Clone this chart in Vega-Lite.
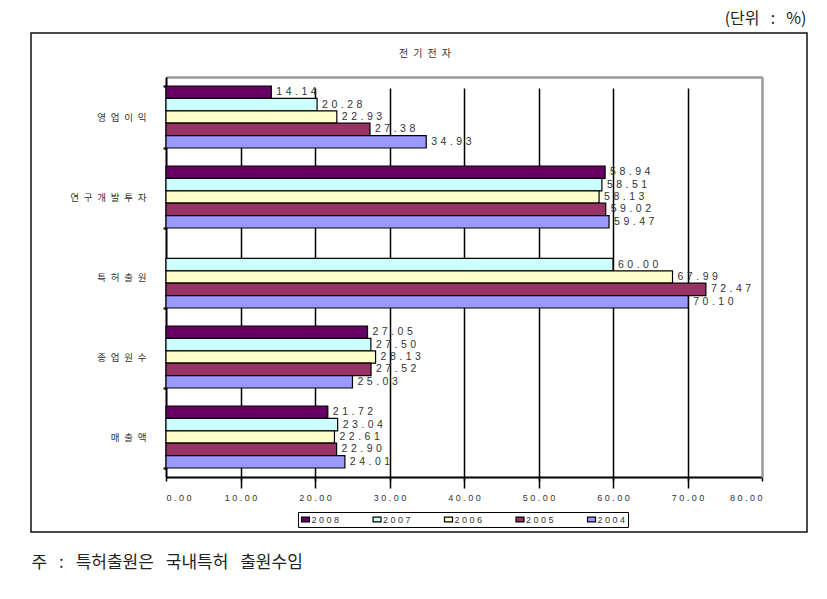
{
  "$schema": "https://vega.github.io/schema/vega-lite/v6.json",
  "width": 776,
  "height": 499,
  "autosize": {"type": "none"},
  "padding": {"left": 31, "top": 33, "right": 20, "bottom": 67},
  "background": "white",
  "title": {"text": "전\u2002기\u2002전\u2002자", "font": "Noto Sans CJK KR", "fontSize": 10, "fontWeight": "normal", "color": "#333", "offset": -26, "dy": 23, "anchor": "middle", "dx": 6},
  "data": {"values": [
    {"cat": "영업이익", "year": "2008", "value": 14.14},
    {"cat": "영업이익", "year": "2007", "value": 20.28},
    {"cat": "영업이익", "year": "2006", "value": 22.93},
    {"cat": "영업이익", "year": "2005", "value": 27.38},
    {"cat": "영업이익", "year": "2004", "value": 34.93},
    {"cat": "연구개발투자", "year": "2008", "value": 58.94},
    {"cat": "연구개발투자", "year": "2007", "value": 58.51},
    {"cat": "연구개발투자", "year": "2006", "value": 58.13},
    {"cat": "연구개발투자", "year": "2005", "value": 59.02},
    {"cat": "연구개발투자", "year": "2004", "value": 59.47},
    {"cat": "특허출원", "year": "2007", "value": 60.00},
    {"cat": "특허출원", "year": "2006", "value": 67.99},
    {"cat": "특허출원", "year": "2005", "value": 72.47},
    {"cat": "특허출원", "year": "2004", "value": 70.10},
    {"cat": "종업원수", "year": "2008", "value": 27.05},
    {"cat": "종업원수", "year": "2007", "value": 27.50},
    {"cat": "종업원수", "year": "2006", "value": 28.13},
    {"cat": "종업원수", "year": "2005", "value": 27.52},
    {"cat": "종업원수", "year": "2004", "value": 25.03},
    {"cat": "매출액", "year": "2008", "value": 21.72},
    {"cat": "매출액", "year": "2007", "value": 23.04},
    {"cat": "매출액", "year": "2006", "value": 22.61},
    {"cat": "매출액", "year": "2005", "value": 22.90},
    {"cat": "매출액", "year": "2004", "value": 24.01}
  ]},
  "transform": [
    {"calculate": "replace(format(datum.value, '.2f'), /(.)(?=.)/g, '$1\u2004')", "as": "label"}
  ],
  "layer": [
    {
      "mark": {"type": "bar", "stroke": "#000", "strokeWidth": 1.2},
      "encoding": {
        "y": {"field": "cat", "type": "nominal", "sort": ["영업이익", "연구개발투자", "특허출원", "종업원수", "매출액"],
              "scale": {"range": [44, 444], "paddingInner": 0.225, "paddingOuter": 0.1125},
              "axis": {"orient": "left", "offset": -135, "title": "(단위\u2002\u2009:\u2002\u2009%)", "titleAngle": 0, "titleX": 640, "titleY": -15, "titleAlign": "right", "titleBaseline": "middle", "titleFont": "Noto Sans CJK KR", "titleFontSize": 16, "titleFontWeight": "normal", "titleColor": "#222",
                       "domainColor": "#000", "domainWidth": 2, "tickBand": "extent", "tickSize": 3, "tickWidth": 2, "tickColor": "#000", "labelPadding": 17,
                       "labelFont": "Noto Sans CJK KR", "labelFontSize": 9.5, "labelColor": "#333", "labelExpr": "replace(datum.label, /(.)(?=.)/g, '$1\u2002')", "grid": false}},
        "yOffset": {"field": "year", "type": "nominal", "sort": ["2008", "2007", "2006", "2005", "2004"], "scale": {"paddingInner": 0, "paddingOuter": 0}},
        "x": {"field": "value", "type": "quantitative",
              "scale": {"domain": [0, 80], "range": [135, 731], "nice": false, "zero": true},
              "axis": {"orient": "bottom", "offset": -55, "values": [0, 10, 20, 30, 40, 50, 60, 70, 80], "format": ".2f",
                       "labelExpr": "replace(datum.label, /(.)(?=.)/g, '$1 ')", "labelFont": "Liberation Sans", "labelFontSize": 9, "labelColor": "#333", "labelPadding": 12,
                       "domainColor": "#000", "domainWidth": 2, "tickColor": "#000", "tickSize": 4, "tickWidth": 1.5,
                       "grid": true, "gridColor": {"condition": {"test": "datum.value >= 80 || datum.value <= 0", "value": "transparent"}, "value": "#000"}, "gridWidth": 1.5,
                       "title": "주\u2002\u2009:\u2002\u2009특허출원은\u2002\u2009국내특허\u2002\u2009출원수임", "titleX": 0, "titleY": 85, "titleAlign": "left", "titleBaseline": "middle", "titleFont": "Noto Sans CJK KR", "titleFontSize": 17, "titleFontWeight": "normal", "titleColor": "#222"}},
        "color": {"field": "year", "type": "nominal",
                  "scale": {"domain": ["2008", "2007", "2006", "2005", "2004"], "range": ["#660066", "#CCFFFF", "#FFFFCC", "#993366", "#9999FF"]},
                  "legend": {"orient": "none", "legendX": 267, "legendY": 479, "direction": "horizontal", "title": null,
                             "strokeColor": "#000", "padding": 2.5, "columnPadding": 30.5,
                             "symbolType": "M-1,-0.6H1V0.6H-1Z", "symbolSize": 64, "symbolStrokeColor": "#000", "symbolStrokeWidth": 1.2, "symbolOpacity": 1,
                             "labelFont": "Liberation Sans", "labelFontSize": 9, "labelColor": "#333", "labelOffset": 1,
                             "labelExpr": "replace(datum.label, /(.)(?=.)/g, '$1 ')"}}
      }
    },
    {
      "mark": {"type": "text", "align": "left", "baseline": "middle", "dx": 5, "font": "Liberation Sans", "fontSize": 10.5, "fill": "#333"},
      "encoding": {
        "y": {"field": "cat", "type": "nominal", "sort": ["영업이익", "연구개발투자", "특허출원", "종업원수", "매출액"],
              "axis": {"orient": "right", "offset": -45, "domainColor": "#999", "domainWidth": 2.5, "ticks": false, "labels": false, "title": null, "grid": false}},
        "yOffset": {"field": "year", "type": "nominal", "sort": ["2008", "2007", "2006", "2005", "2004"]},
        "x": {"field": "value", "type": "quantitative",
              "axis": {"orient": "top", "offset": -44, "domainColor": "#999", "domainWidth": 2.5, "ticks": false, "labels": false, "title": null, "grid": false}},
        "text": {"field": "label"}
      }
    }
  ],
  "resolve": {"axis": {"x": "independent", "y": "independent"}},
  "config": {
    "view": {"stroke": "#111", "strokeWidth": 1.5}
  }
}
